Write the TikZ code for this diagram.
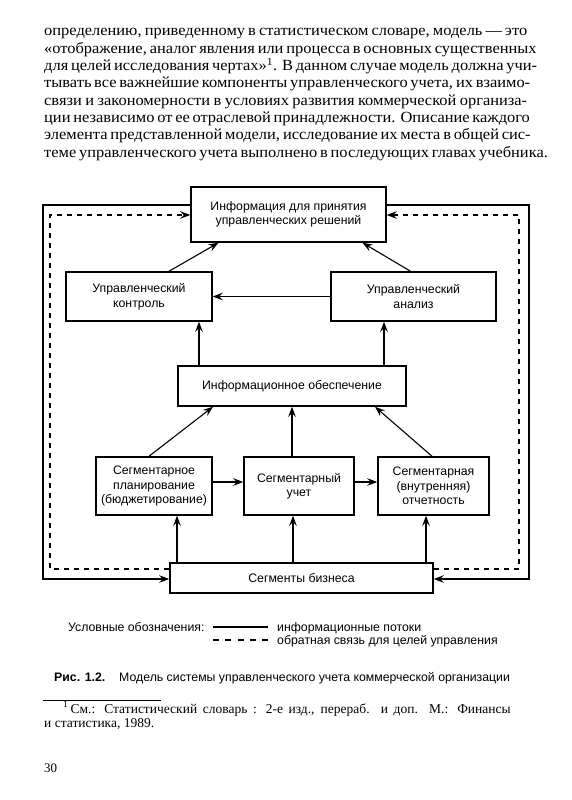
\documentclass[tikz,border=0pt]{standalone}
\usepackage{fontspec}
\setmainfont{Liberation Serif}
\setsansfont{Liberation Sans}
\newfontfamily\bodyfont[FakeStretch=1.06]{Liberation Serif}
\usetikzlibrary{arrows.meta,calc}
\tikzset{
box/.style={draw,line width=1.5pt,align=center,inner sep=2pt,font=\sffamily\fontsize{12.3}{14.5}\selectfont},
flow/.style={line width=1.1pt},
arr/.style={flow,-{Stealth[length=10pt,width=7.5pt,inset=3.5pt]}},
feedback/.style={arr,dash pattern=on 5pt off 5pt},
bodytext/.style={anchor=base west,inner sep=0pt,font=\bodyfont\fontsize{15.5}{17}\selectfont},
notetext/.style={anchor=base west,inner sep=0pt,font=\rmfamily\fontsize{13.5}{14}\selectfont},
legendtext/.style={anchor=base west,inner sep=0pt,font=\sffamily\fontsize{12.3}{13}\selectfont},
}
\tikzstyle{every node}=[font=\sffamily]

\begin{document}
\begin{tikzpicture}[x=1pt,y=-1pt]
        \fill[white] (0,0) rectangle (571,800);
        \useasboundingbox (0,0) rectangle (571,800);

        % text above the figure
        \foreach \txt [count=\i] in {
            {определению, приведенному в статистическом словаре, модель — это},
            {«отображение, аналог явления или процесса в основных существенных},
            {для целей исследования чертах»\textsuperscript{1}. В данном случае модель должна учи-},
            {тывать все важнейшие компоненты управленческого учета, их взаимо-},
            {связи и закономерности в условиях развития коммерческой организа-},
            {ции независимо от ее отраслевой принадлежности. Описание каждого},
            {элемента представленной модели, исследование их места в общей сис-},
            {теме управленческого учета выполнено в последующих главах учебника.}}
        \node[bodytext] (line\i) at (44,{36+17.3*(\i-1)}) {\makebox[483pt][s]{\txt}};

        % blocks
        \node[box,minimum width=195pt,minimum height=55pt] (info) at (288.5,214.5)
        {Информация для принятия\\управленческих решений};
        \node[box,minimum width=146pt,minimum height=49pt] (kontrol) at (139,296.5)
        {Управленческий\\контроль};
        \node[box,minimum width=165pt,minimum height=49pt] (analiz) at (413.5,296.5)
        {Управленческий\\анализ};
        \node[box,minimum width=228pt,minimum height=40pt] (obesp) at (292,386)
        {Информационное обеспечение};
        \node[box,minimum width=116pt,minimum height=58pt] (plan) at (154,486)
        {Сегментарное\\планирование\\(бюджетирование)};
        \node[box,minimum width=110pt,minimum height=58pt] (uchet) at (299,486)
        {Сегментарный\\учет};
        \node[box,minimum width=111pt,minimum height=58pt] (otchet) at (433.5,486)
        {Сегментарная\\(внутренняя)\\отчетность};
        \node[box,minimum width=263pt,minimum height=30pt] (segm) at (301.5,578)
        {Сегменты бизнеса};

        % information flows
        \draw[arr] ([xshift=30pt]kontrol.north) -- ([xshift=-70pt]info.south);
        \draw[arr] ([xshift=-3pt]analiz.north) -- ([xshift=74pt]info.south);
        \draw[arr] (analiz.west) -- (kontrol.east);
        \draw[arr] ([xshift=-93pt]obesp.north) -- ([xshift=60pt]kontrol.south);
        \draw[arr] ([xshift=92pt]obesp.north) -- ([xshift=-29.5pt]analiz.south);
        \draw[arr] ([xshift=-5pt]plan.north) -- ([xshift=-79pt]obesp.south);
        \draw[arr] ([xshift=-7pt]uchet.north) -- (obesp.south);
        \draw[arr] ([xshift=-1.5pt]otchet.north) -- ([xshift=83pt]obesp.south);
        \draw[arr] ([yshift=4pt]plan.east) -- ([yshift=4pt]uchet.west);
        \draw[arr] ([yshift=4pt]uchet.east) -- ([yshift=4pt]otchet.west);
        \draw[arr] ([xshift=-124.5pt]segm.north) -- ([xshift=23pt]plan.south);
        \draw[arr] ([xshift=-8.5pt]segm.north) -- ([xshift=-6pt]uchet.south);
        \draw[arr] ([xshift=124.5pt]segm.north) -- ([xshift=-7.5pt]otchet.south);

        % outer loops
        \draw[arr] ([yshift=9.5pt]info.west) -| (43,579) -- ([yshift=-1pt]segm.west);
        \draw[arr] ([yshift=9.5pt]info.east) -| (529,579) -- ([yshift=-1pt]segm.east);
        \draw[feedback] ([yshift=9pt]segm.west) -| (50,215) -- ([yshift=-0.5pt]info.west);
        \draw[feedback] ([yshift=9pt]segm.east) -| (519,215) -- ([yshift=-0.5pt]info.east);

        % legend
        \node[legendtext] (legend) at (68,631) {Условные обозначения:};
        \draw[flow] (213,627) -- (268,627);
        \draw[flow,dash pattern=on 6pt off 6.25pt] (213,640) -- (268,640);
        \node[legendtext] (solidkey) at (277,631) {информационные потоки};
        \node[legendtext] (dashkey) at (277,644) {обратная связь для целей управления};

        % caption
        \node[legendtext] (fignum) at (54,681) {\textbf{Рис. 1.2.}};
        \node[legendtext] (caption) at (119,681)
        {Модель системы управленческого учета коммерческой организации};

        % footnote
        \draw[line width=0.8pt] (43,700) -- (161,700);
        \node[notetext] (note1) at (63,713)
        {\textsuperscript{1}\,\makebox[440pt][s]{См.: Статистический словарь : 2-е изд., перераб. и доп. М.: Финансы}};
        \node[notetext] (note2) at (44,727) {и статистика, 1989.};

        \node[notetext,font=\rmfamily\fontsize{13}{13}\selectfont] (pagenum) at (44,772) {30};
    \end{tikzpicture}
\end{document}
